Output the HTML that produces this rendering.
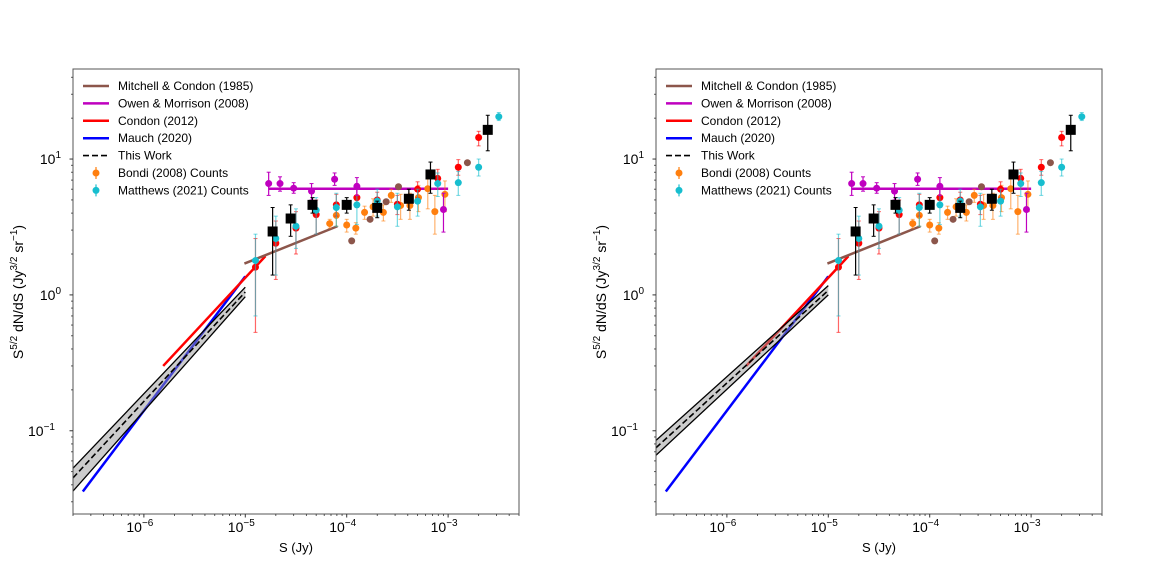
<!DOCTYPE html>
<html><head><meta charset="utf-8"><style>
html,body{margin:0;padding:0;background:#fff;}
svg{display:block;font-family:"Liberation Sans","DejaVu Sans",sans-serif;}
</style></head><body>
<svg id="chart" width="1160" height="578" viewBox="0 0 1160 578" xmlns="http://www.w3.org/2000/svg"></svg>
<script>
// ---- data ----
const blackX=[1.86e-5,2.8e-5,4.6e-5,1.0e-4,2.0e-4,4.1e-4,6.7e-4,2.46e-3];
const blackY=[2.93,3.65,4.6,4.6,4.37,5.1,7.7,16.4];
const blackLo=[1.4,2.7,4.0,4.0,3.7,4.2,5.6,11.5];
const blackHi=[4.4,4.6,5.2,5.2,4.9,6.0,9.5,21];
const owenX=[1.7e-5,2.2e-5,3.0e-5,4.5e-5,7.6e-5,1.26e-4,9.0e-4];
const owenY=[6.6,6.6,6.1,5.8,7.1,6.3,4.25];
const owenLo=[5.4,5.8,5.6,5.0,6.4,5.4,2.9];
const owenHi=[8.0,7.4,6.7,6.6,7.9,7.3,5.6];
const condonX=[1.26e-5,2.0e-5,3.16e-5,5.0e-5,7.9e-5,1.26e-4,2.0e-4,3.16e-4,5.0e-4,7.9e-4,1.26e-3,2.0e-3];
const condonY=[1.6,2.4,3.1,3.9,4.6,5.2,5.0,4.65,6.0,7.2,8.7,14.4];
const condonLo=[0.53,1.3,2.0,2.8,3.8,4.4,4.3,3.9,5.2,6.0,7.6,12.5];
const condonHi=[2.6,3.5,4.1,5.0,5.5,6.0,5.7,5.4,6.8,8.4,9.9,16.0];
const mitchX=[1.12e-4,1.7e-4,2.45e-4,3.24e-4,1.55e-3];
const mitchY=[2.5,3.6,4.85,6.25,9.4];
const bondiX=[6.8e-5,7.9e-5,1.0e-4,1.23e-4,1.5e-4,1.82e-4,2.3e-4,2.75e-4,3.4e-4,4.2e-4,5.1e-4,6.3e-4,7.4e-4,9.3e-4];
const bondiY=[3.35,3.85,3.27,3.1,4.05,4.45,4.05,5.4,4.55,4.55,5.2,6.05,4.1,5.5];
const bondiLo=[3.1,3.2,2.9,2.8,3.6,3.8,3.5,4.8,3.6,3.6,4.1,4.3,2.8,4.1];
const bondiHi=[3.6,4.5,3.6,3.4,4.5,5.1,4.6,6.0,5.5,5.6,6.4,7.8,5.4,6.9];
const matX=[1.26e-5,2.0e-5,3.16e-5,5.0e-5,7.9e-5,1.26e-4,2.0e-4,3.16e-4,5.0e-4,7.9e-4,1.26e-3,2.0e-3,3.16e-3];
const matY=[1.79,2.6,3.2,4.2,4.4,4.6,4.9,4.45,4.9,6.6,6.7,8.7,20.5];
const matLo=[0.7,1.4,2.2,2.8,3.2,3.3,3.8,3.2,3.8,5.3,5.4,7.5,19.2];
const matHi=[2.8,3.8,4.3,5.2,5.6,6.0,6.0,5.6,6.0,7.9,8.1,10.0,22];
const owenLineX=[1.7e-5,1.0e-3]; const owenLineY=[6.05,6.05];
const condonLineX=[1.55e-6,1.58e-5]; const condonLineY=[0.30,1.93];
const mauchLineX=[2.5e-7,1.0e-5]; const mauchLineY=[0.0357,1.37];
const mitchLineX=[9.8e-6,8.1e-5]; const mitchLineY=[1.70,3.2];
const workX=[2.0e-7,1.0e-5];
const workLeftMid=[0.045,1.05]; const workLeftLo=[0.036,0.97]; const workLeftHi=[0.053,1.14];
const workRightMid=[0.075,1.08]; const workRightLo=[0.066,1.0]; const workRightHi=[0.085,1.17];
const xTickVals=[1e-6,1e-5,1e-4,1e-3]; const xTickLabels=["-6","-5","-4","-3"];
const yTickVals=[0.1,1,10]; const yTickLabels=["-1","0","1"];

const NS="http://www.w3.org/2000/svg";
const svg=document.getElementById('chart');
function mk(tag,attrs,parent){const e=document.createElementNS(NS,tag);for(const k in attrs)e.setAttribute(k,attrs[k]);(parent||svg).appendChild(e);return e;}

const PW=446, T=69, B=514;
const xMin=Math.log10(2.0e-7), xMax=Math.log10(5.0e-3);
const yMin=Math.log10(0.0244), yMax=Math.log10(46);

function panel(L,mid,lo,hi,name){
  const g=mk('g',{});
  
  
  const sx=v=>L+(Math.log10(v)-xMin)/(xMax-xMin)*PW;
  const sy=v=>B-(Math.log10(v)-yMin)/(yMax-yMin)*(B-T);
  const clip='clip'+L;
  const cp=mk('clipPath',{id:clip},g); mk('rect',{x:L,y:T,width:PW,height:B-T},cp);
  const plot=mk('g',{'clip-path':'url(#'+clip+')'},g);
  
  
  function line(xs,ys,col,w,nm,dash){const p=mk('polyline',{points:xs.map((x,i)=>sx(x)+','+sy(ys[i])).join(' '),fill:'none',stroke:col,'stroke-width':w},plot);if(dash)p.setAttribute('stroke-dasharray',dash);return p;}
  function pts(xs,ys,los,his,col,ecol,nm,sq){
    const sg=mk('g',{},plot);
    
    
    xs.forEach((x,i)=>{
      const cx=sx(x),cy=sy(ys[i]);
      if(los){
        const a=sy(los[i]),b=sy(his[i]);
        mk('line',{x1:cx,x2:cx,y1:a,y2:b,stroke:ecol,'stroke-width':1.2},sg);
        mk('line',{x1:cx-2,x2:cx+2,y1:a,y2:a,stroke:ecol,'stroke-width':1},sg);
        mk('line',{x1:cx-2,x2:cx+2,y1:b,y2:b,stroke:ecol,'stroke-width':1},sg);
      }
      let m;
      if(sq) m=mk('rect',{x:cx-5,y:cy-5,width:10,height:10,fill:col},sg);
      else m=mk('circle',{cx:cx,cy:cy,r:3.5,fill:col},sg);
      
      
    });
  }
  line(mauchLineX,mauchLineY,'#0000ff',2.5,'mauch-2020-line');
  line(condonLineX,condonLineY,'#ff0000',2.5,'condon-2012-line');
  // this work band
  const poly=workX.map((x,i)=>sx(x)+','+sy(hi[i])).concat(workX.slice().reverse().map((x,j)=>sx(x)+','+sy(lo[workX.length-1-j])));
  const band=mk('polygon',{points:poly.join(' '),fill:'#999','fill-opacity':0.5,stroke:'none'},plot);
  
  
  line(workX,hi,'#000',1.3,'this-work-upper');
  line(workX,lo,'#000',1.3,'this-work-lower');
  line(workX,mid,'#000',1.6,'this-work-line','6,3');
  line(mitchLineX,mitchLineY,'#8c564b',2.5,'mitchell-condon-line');
  line(owenLineX,owenLineY,'#bf00bf',2.5,'owen-morrison-line');
  pts(bondiX,bondiY,bondiLo,bondiHi,'#ff7f0e','rgba(255,127,14,0.6)','bondi-points');
  pts(mitchX,mitchY,null,null,'#8c564b','#8c564b','mitchell-points');
  pts(condonX,condonY,condonLo,condonHi,'#ff0000','rgba(255,0,0,0.6)','condon-points');
  pts(matX,matY,matLo,matHi,'#17becf','rgba(23,190,207,0.6)','matthews-points');
  pts(owenX,owenY,owenLo,owenHi,'#bf00bf','#bf00bf','owen-points');
  pts(blackX,blackY,blackLo,blackHi,'#000','#000','this-work-points',true);
  // frame
  const fr=mk('rect',{x:L,y:T,width:PW,height:B-T,fill:'none',stroke:'#555','stroke-width':1},g);
  
  
  // ticks
  for(let d=-7;d<=-2;d++)for(let m=1;m<10;m++){const v=m*Math.pow(10,d);if(v<2e-7||v>5e-3)continue;const x=sx(v);mk('line',{x1:x,x2:x,y1:B,y2:B+(m==1?3.5:2),stroke:'#333','stroke-width':m==1?1:0.8},g);}
  for(let d=-2;d<=1;d++)for(let m=1;m<10;m++){const v=m*Math.pow(10,d);if(v<0.0244||v>46)continue;const y=sy(v);mk('line',{x1:L,x2:L-(m==1?3.5:2),y1:y,y2:y,stroke:'#333','stroke-width':m==1?1:0.8},g);}
  xTickVals.forEach((v,i)=>{const t=mk('text',{x:sx(v)-4,y:B+18,'font-size':14,'text-anchor':'middle',fill:'#000'},g);t.innerHTML='10<tspan dy="-6" font-size="10">−'+xTickLabels[i].slice(1)+'</tspan>';});
  yTickVals.forEach((v,i)=>{const lab=yTickLabels[i].replace('-','−');const t=mk('text',{x:L-6-lab.length*6,y:sy(v)+5,'font-size':14,'text-anchor':'end',fill:'#000'},g);t.innerHTML='10<tspan dy="-6" font-size="10">'+lab+'</tspan>';});
  const xl=mk('text',{x:L+223,y:B+38,'font-size':13,'text-anchor':'middle'},g);xl.textContent='S (Jy)';
  
  const yl=mk('text',{x:0,y:0,'font-size':14,'text-anchor':'middle',transform:'translate('+(L-50)+',292) rotate(-90)'},g);
  yl.innerHTML='S<tspan dy="-6" font-size="10">5/2</tspan><tspan dy="6"> dN/dS (Jy</tspan><tspan dy="-6" font-size="10">3/2</tspan><tspan dy="6"> sr</tspan><tspan dy="-6" font-size="10">−1</tspan><tspan dy="6">)</tspan>';
  
  // legend
  const lg=mk('g',{},g);
  
  
  const items=[['Mitchell & Condon (1985)','#8c564b','l'],['Owen & Morrison (2008)','#bf00bf','l'],['Condon (2012)','#ff0000','l'],['Mauch (2020)','#0000ff','l'],['This Work','#000','d'],['Bondi (2008) Counts','#ff7f0e','p'],['Matthews (2021) Counts','#17becf','p']];
  items.forEach((it,i)=>{
    const y=86+i*17.4;const lx=L+10;
    const e=mk('g',{},lg);
    
    
    if(it[2]=='l')mk('line',{x1:lx,x2:lx+26,y1:y,y2:y,stroke:it[1],'stroke-width':2.5},e);
    else if(it[2]=='d')mk('line',{x1:lx,x2:lx+26,y1:y,y2:y,stroke:'#000','stroke-width':1.6,'stroke-dasharray':'6,3'},e);
    else{mk('line',{x1:lx+13,x2:lx+13,y1:y-6,y2:y+6,stroke:it[1],'stroke-width':1.2},e);mk('circle',{cx:lx+13,cy:y,r:3.5,fill:it[1]},e);}
    const t=mk('text',{x:lx+35,y:y+4,'font-size':12,fill:'#000'},e);t.textContent=it[0];
  });
}
panel(73,workLeftMid,workLeftLo,workLeftHi,'left-panel');
panel(656,workRightMid,workRightLo,workRightHi,'right-panel');
</script>
</body></html>
